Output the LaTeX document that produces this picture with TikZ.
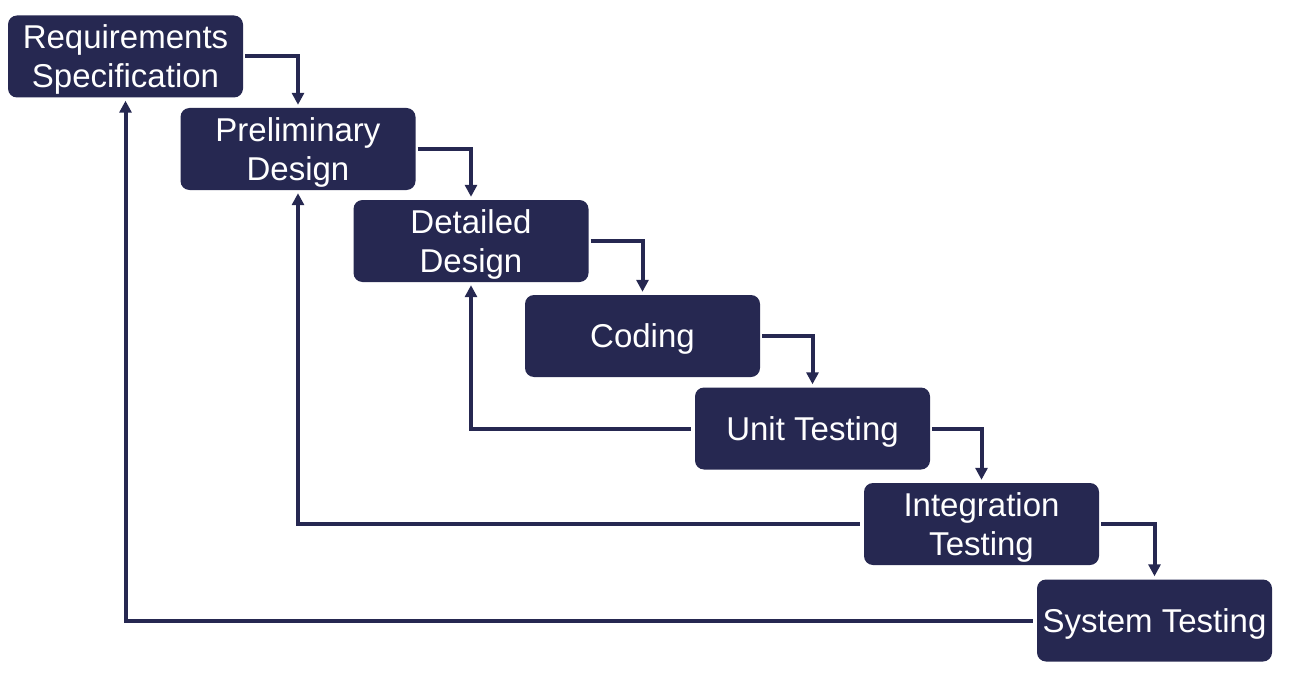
\documentclass[tikz,border=0pt]{standalone}
\usepackage{fontspec}
\setmainfont{Liberation Sans}
\usetikzlibrary{arrows.meta}
\definecolor{navy}{HTML}{262851}
\newcommand\lowtext[1]{\raisebox{-3pt}[\height][\depth]{\parbox{232pt}{\centering #1}}}
\begin{document}
\begin{tikzpicture}[x=1pt,y=-1pt,
  stage/.style={fill=navy, text=white, rounded corners=9pt, minimum width=235pt, minimum height=82pt, inner sep=0pt, align=center, font=\fontsize{33}{39}\selectfont},
  flow/.style={draw=navy, line width=4pt, -{Triangle[length=12pt,width=12pt]}, shorten <=2pt, shorten >=3pt},
  back/.style={draw=navy, line width=4pt, -{Triangle[length=12pt,width=12pt]}, shorten <=4pt, shorten >=3pt}]
\useasboundingbox (0,0) rectangle (1297,679);
\node[stage] (r1) at (125.5,56.5) {\lowtext{Requirements\\Specification}};
\node[stage] (r2) at (298,149) {\lowtext{Preliminary\\Design}};
\node[stage] (r3) at (471,241) {\lowtext{Detailed\\Design}};
\node[stage] (r4) at (642.5,336) {\lowtext{Coding}};
\node[stage] (r5) at (812.5,428.5) {\lowtext{Unit Testing}};
\node[stage] (r6) at (981.5,524) {\lowtext{Integration\\Testing}};
\node[stage] (r7) at (1154.5,620.5) {\lowtext{System Testing}};
\draw[flow] (r1.east) -| (r2.north);
\draw[flow] (r2.east) -| (r3.north);
\draw[flow] (r3.east) -| (r4.north);
\draw[flow] (r4.east) -| (r5.north);
\draw[flow] (r5.east) -| (r6.north);
\draw[flow] (r6.east) -| (r7.north);
\draw[back] (r5.west) -| (r3.south);
\draw[back] (r6.west) -| (r2.south);
\draw[back] (r7.west) -| (r1.south);
\end{tikzpicture}
\end{document}
